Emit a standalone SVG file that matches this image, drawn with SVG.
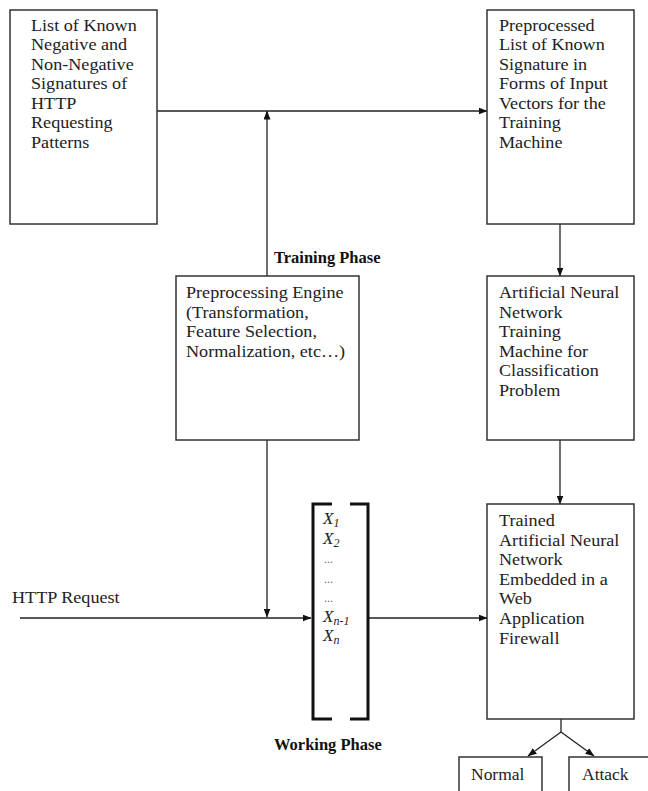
<svg xmlns="http://www.w3.org/2000/svg" width="648" height="791" viewBox="0 0 648 791">
<defs>
<style>
.box{fill:none;stroke:#333;stroke-width:1.5}
.con{fill:none;stroke:#222;stroke-width:1.3}
.t{font-family:"Liberation Serif","Times New Roman",serif;font-size:16.5px;fill:#222}
.b{font-family:"Liberation Serif","Times New Roman",serif;font-size:16.5px;font-weight:bold;fill:#111}
.x{font-family:"Liberation Serif","Times New Roman",serif;font-size:17px;font-style:italic;fill:#222}
.sub{font-size:12px}
.dots{font-family:"Liberation Serif",serif;font-size:12px;fill:#666}
.br{fill:none;stroke:#111;stroke-width:3}
</style>
<marker id="ah" markerUnits="userSpaceOnUse" markerWidth="9" markerHeight="7" refX="8.5" refY="3.5" orient="auto">
<path d="M0,0 L9,3.5 L0,7 z" fill="#111"/>
</marker>
</defs>
<rect width="648" height="791" fill="#fff"/>

<g id="connectors">
<line class="con" x1="157" y1="111" x2="487" y2="111" marker-end="url(#ah)"/>
<line class="con" x1="267" y1="276" x2="267" y2="111" marker-end="url(#ah)"/>
<line class="con" x1="267" y1="440" x2="267" y2="617" marker-end="url(#ah)"/>
<line class="con" x1="560" y1="224" x2="560" y2="276" marker-end="url(#ah)"/>
<line class="con" x1="560" y1="440" x2="560" y2="504" marker-end="url(#ah)"/>
<line class="con" x1="20" y1="618" x2="311" y2="618" marker-end="url(#ah)"/>
<line class="con" x1="369" y1="618" x2="487" y2="618" marker-end="url(#ah)"/>
<polyline class="con" points="561,719 561,732"/>
<line class="con" x1="561" y1="732" x2="528" y2="756" marker-end="url(#ah)"/>
<line class="con" x1="561" y1="732" x2="594" y2="756" marker-end="url(#ah)"/>
</g>

<g id="known-signatures">
<rect class="box" x="10" y="10" width="147" height="214"/>
<g transform="translate(31,30.5) scale(1.1,1)">
<text class="t"><tspan x="0" y="0">List of Known</tspan><tspan x="0" y="19.6">Negative and</tspan><tspan x="0" y="39.2">Non-Negative</tspan><tspan x="0" y="58.8">Signatures of</tspan><tspan x="0" y="78.4">HTTP</tspan><tspan x="0" y="98">Requesting</tspan><tspan x="0" y="117.6">Patterns</tspan></text>
</g>
</g>

<g id="preprocessed-list">
<rect class="box" x="487" y="10" width="147" height="214"/>
<g transform="translate(499,30.5) scale(1.1,1)">
<text class="t"><tspan x="0" y="0">Preprocessed</tspan><tspan x="0" y="19.6">List of Known</tspan><tspan x="0" y="39.2">Signature in</tspan><tspan x="0" y="58.8">Forms of Input</tspan><tspan x="0" y="78.4">Vectors for the</tspan><tspan x="0" y="98">Training</tspan><tspan x="0" y="117.6">Machine</tspan></text>
</g>
</g>

<g id="training-phase-label">
<text class="b" x="274" y="262.5">Training Phase</text>
</g>

<g id="preprocessing-engine">
<rect class="box" x="176" y="276" width="183" height="164"/>
<g transform="translate(186,298) scale(1.1,1)">
<text class="t"><tspan x="0" y="0">Preprocessing Engine</tspan><tspan x="0" y="19.6">(Transformation,</tspan><tspan x="0" y="39.2">Feature Selection,</tspan><tspan x="0" y="58.8">Normalization, etc…)</tspan></text>
</g>
</g>

<g id="ann-training">
<rect class="box" x="487" y="276" width="147" height="164"/>
<g transform="translate(499,298) scale(1.1,1)">
<text class="t"><tspan x="0" y="0">Artificial Neural</tspan><tspan x="0" y="19.6">Network</tspan><tspan x="0" y="39.2">Training</tspan><tspan x="0" y="58.8">Machine for</tspan><tspan x="0" y="78.4">Classification</tspan><tspan x="0" y="98">Problem</tspan></text>
</g>
</g>

<g id="http-request-label">
<g transform="translate(12,603) scale(1.1,1)">
<text class="t" x="0" y="0">HTTP Request</text>
</g>
</g>

<g id="input-vector">
<path class="br" d="M332,504 H313 V719 H332"/>
<path class="br" d="M350,504 H368 V719 H350"/>
<text class="x" x="323" y="524">X<tspan class="sub" dy="3">1</tspan></text>
<text class="x" x="323" y="543.5">X<tspan class="sub" dy="3">2</tspan></text>
<text class="dots" x="324" y="563">...</text>
<text class="dots" x="324" y="582.5">...</text>
<text class="dots" x="324" y="602">...</text>
<text class="x" x="323" y="621.5">X<tspan class="sub" dy="3">n-1</tspan></text>
<text class="x" x="323" y="641">X<tspan class="sub" dy="3">n</tspan></text>
</g>

<g id="trained-ann-waf">
<rect class="box" x="487" y="504" width="147" height="215"/>
<g transform="translate(499,526) scale(1.1,1)">
<text class="t"><tspan x="0" y="0">Trained</tspan><tspan x="0" y="19.6">Artificial Neural</tspan><tspan x="0" y="39.2">Network</tspan><tspan x="0" y="58.8">Embedded in a</tspan><tspan x="0" y="78.4">Web</tspan><tspan x="0" y="98">Application</tspan><tspan x="0" y="117.6">Firewall</tspan></text>
</g>
</g>

<g id="working-phase-label">
<text class="b" x="274" y="750">Working Phase</text>
</g>

<g id="normal">
<rect class="box" x="459" y="757" width="83" height="45"/>
<g transform="translate(471,780) scale(1.06,1)">
<text class="t" x="0" y="0">Normal</text>
</g>
</g>

<g id="attack">
<rect class="box" x="569" y="757" width="95" height="45"/>
<g transform="translate(582,780) scale(1.06,1)">
<text class="t" x="0" y="0">Attack</text>
</g>
</g>
</svg>
